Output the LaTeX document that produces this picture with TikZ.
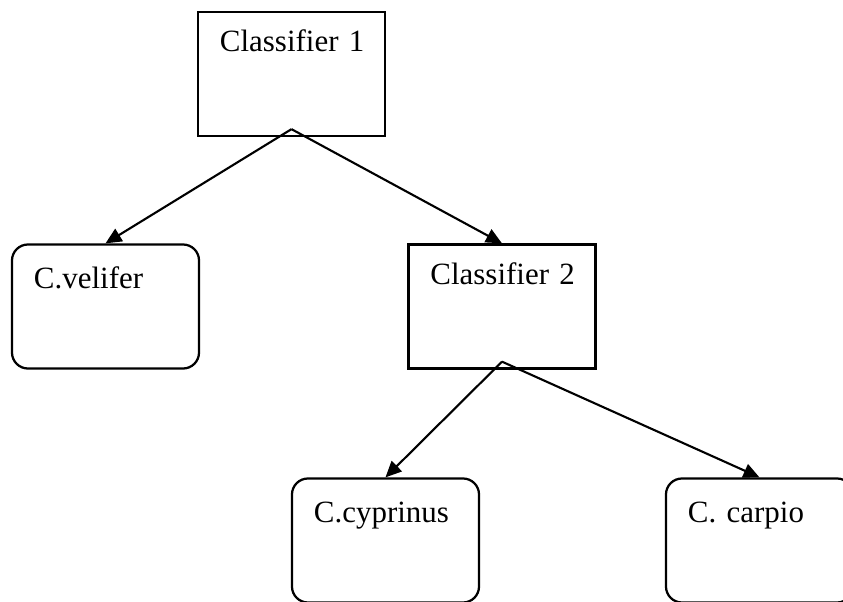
\documentclass[tikz,border=0pt]{standalone}
\usepackage{fontspec}
\setmainfont{Liberation Serif}
\usepackage{tikz}
\usetikzlibrary{arrows.meta,positioning,calc}

\begin{document}
\begin{tikzpicture}[
  x=0.025cm,y=0.025cm,>={Triangle[length=0.4cm,width=0.36cm]},
  flow/.style={->,line width=1.5pt},
  clsbox/.style={draw,line width=1.6pt,inner xsep=0.55cm,inner ysep=0pt,
    text width=3.575cm,align=left,text height=1cm,text depth=2.1cm},
  leafbox/.style={clsbox,rounded corners=0.4cm,text height=1.1cm,
    text depth=2cm},
  every node/.style={font=\fontsize{22}{26}\selectfont}
]
  \useasboundingbox (0,0) rectangle (843,-601);
  \node[clsbox] (classA) at (291.5,-74) {Classifier~1};
  \node[leafbox] (velifer) at (105.5,-306.5) {C.velifer};
  \node[clsbox] (classB) at (502,-306.5) {Classifier~2};
  \node[leafbox] (cyprinus) at (385.5,-540.5) {C.cyprinus};
  \node[leafbox] (carpio) at (759.5,-540.5) {C. carpio};

  \coordinate (splitA) at ($(classA.south)+(0,8)$);
  \coordinate (splitB) at ($(classB.south)+(0,8)$);

  \draw[flow] (splitA) -- (velifer.north);
  \draw[flow] (splitA) -- (classB.north);
  \draw[flow] (splitB) -- (cyprinus.north);
  \draw[flow] (splitB) -- (carpio.north);
\end{tikzpicture}
\end{document}
